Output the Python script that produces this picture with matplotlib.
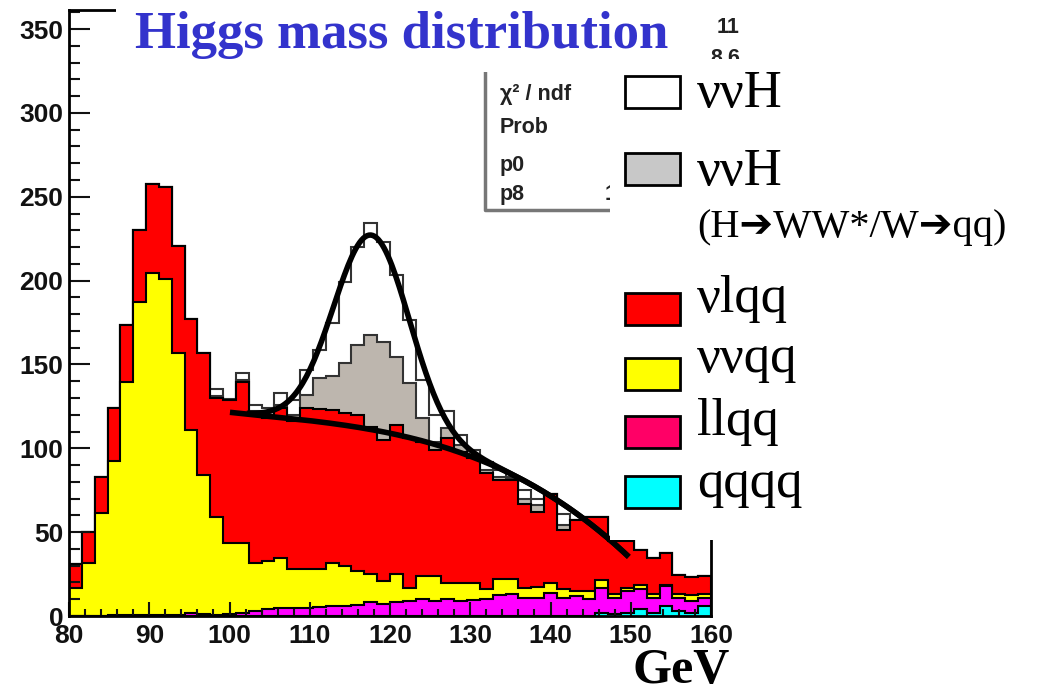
import numpy as np
import matplotlib
matplotlib.use("Agg")
import matplotlib.pyplot as plt
from matplotlib.patches import Rectangle
from matplotlib.lines import Line2D

# binning: 50 bins of 1.6 GeV
edges = np.linspace(80, 160, 51)

# per-process bin contents (stacked bottom -> top)
qqqq = [0]*41 + [2, 1, 2, 4, 2, 6, 3, 2, 6]
llqq = [0, 0, 0, 0.3, 0.3, 0.3, 0.3, 0.5, 0.5, 1.5,
        1, 0.5, 1, 2, 3, 4, 4.5, 5, 4.5, 5.5,
        6, 6, 6.5, 8.5, 7, 8.3, 8.9, 9.9, 8.9, 9.9,
        9, 9.5, 9.9, 12.3, 12.9, 10.9, 10.9, 13.9, 10.9, 11.9,
        9.9, 14.9, 9.9, 12.9, 11.9, 8.9, 11.9, 7.9, 6.9, 4.9]
vvqq = [16.5, 31.8, 61.2, 92.1, 139.5, 186.8, 204.5, 200.3, 156.5, 109.5,
        83.1, 58.7, 42.5, 41.5, 28.8, 28.8, 30.3, 22.8, 23.3, 22.3,
        25.8, 23.8, 20.3, 16.4, 13.9, 16.6, 7.6, 14.0, 15.0, 10.0,
        10.5, 10.0, 6.0, 10.0, 9.4, 5.6, 6.6, 6.0, 5.0, 3.0,
        5.0, 4.6, 2.0, 1.6, 2.4, 2.1, 0.6, 2.0, 3.4, 2.0]
vlqq = [14.3, 18.5, 21.5, 31.5, 33.8, 43.1, 52.9, 55.2, 63.7, 66.0,
        72.6, 71.0, 85.3, 96.3, 88.2, 85.2, 89.2, 88.2, 96.1, 95.5,
        91.1, 91.5, 93.1, 88.0, 84.1, 89.0, 89.5, 80.1, 75.1, 86.1,
        78.5, 74.5, 69.1, 58.7, 58.7, 50.5, 44.5, 53.1, 35.1, 42.1,
        44.1, 37.5, 32.1, 28.5, 21.1, 21.4, 18.9, 11.6, 11.2, 10.9]
vvh_ww = [0]*11 + [0.8, 0, 1.2, 2, 2, 2, 4, 8.1, 18.4,
                   20.4, 29.4, 41.7, 54.7, 58.6, 40.8, 32.8, 13.9, 5, 6,
                   4, 2, 2, 2, 1, 3, 4, 0, 3] + [0]*11
vvh = [0]*11 + [4.6, 0.7, 4.1, 4, 4, 7, 9, 14.7, 16.9,
                31.3, 48.7, 58.4, 66.6, 59.7, 48.7, 37.7, 22.9, 16, 10,
                6, 3, 5, 4, 1, 5, 4, 0, 7] + [0]*11

# fit: cubic background in (m-100) + gaussian signal
bg_par = [121.5, -0.503, 0.00642, -0.000626]
sig_par = [116, 117.7, 4.7]

legend_labels = ["ννH", "ννH", "νlqq", "ννqq", "llqq", "qqqq"]
legend_colors = ["white", "#c8c8c8", "#ff0000", "#ffff00", "#ff0066", "#00ffff"]

W, H = 1054, 695
def fx(x): return x / W
def fy(y): return 1 - y / H

fig = plt.figure(figsize=(W/100, H/100), dpi=100)
ax = fig.add_axes([fx(69), fy(616), 642/W, 606/H])

stack = np.cumsum([qqqq, llqq, vvqq, vlqq, vvh_ww, vvh], axis=0)
styles = [("#00ffff", "black"), ("#ff00ff", "black"), ("#ffff00", "black"),
          ("#ff0000", "black"), ("#bdb6ae", "#333333"), ("white", "#333333")]
for i in range(5, -1, -1):
    ax.stairs(stack[i], edges, fill=True, facecolor=styles[i][0],
              edgecolor=styles[i][1], lw=1.5)

def bg(m):
    t = m - 100
    return bg_par[0] + bg_par[1]*t + bg_par[2]*t**2 + bg_par[3]*t**3

m1 = np.linspace(100.4, 149.5, 200)
m2 = np.linspace(102.5, 149.5, 200)
ax.plot(m1, bg(m1), color="black", lw=4, zorder=5)
ax.plot(m2, bg(m2) + sig_par[0]*np.exp(-(m2 - sig_par[1])**2/(2*sig_par[2]**2)),
        color="black", lw=4, zorder=5)

ax.set_xlim(80, 160)
ax.set_ylim(0, 361.4)
ax.set_xticks(np.arange(80, 161, 10))
ax.set_yticks(np.arange(0, 351, 50))
ax.set_yticks(np.arange(0, 361, 10), minor=True)
ax.set_xticks(np.arange(80, 161, 2), minor=True)
ax.tick_params(which="both", direction="in", width=1.5, colors="#111111")
ax.tick_params(axis="y", which="major", length=15, pad=4)
ax.tick_params(axis="y", which="minor", length=8)
ax.tick_params(axis="x", which="major", length=10, pad=6)
ax.tick_params(axis="x", which="minor", length=5)
for lab in ax.get_xticklabels() + ax.get_yticklabels():
    lab.set_fontfamily("Liberation Sans")
    lab.set_fontweight("bold")
    lab.set_fontsize(19)
for s in ax.spines.values():
    s.set_linewidth(2)

# stats box (partly hidden): white face, grey left and bottom border
fig.patches.append(Rectangle((fx(485), fy(210)), (800-485)/W, 230/H,
                             transform=fig.transFigure, facecolor="white",
                             edgecolor="none", zorder=3))
fig.lines.append(Line2D([fx(485), fx(485), fx(800)], [fy(60), fy(210), fy(210)],
                        transform=fig.transFigure, color="#777777", lw=2.5, zorder=3.5))
sfont = dict(family="Liberation Sans", weight="bold", size=15.5, color="#222222",
             va="baseline", zorder=4)
fig.text(fx(500), fy(100), "χ² / ndf", **sfont)
fig.text(fx(500), fy(133), "Prob", **sfont)
fig.text(fx(500), fy(171), "p0", **sfont)
fig.text(fx(500), fy(200), "p8", **sfont)
fig.text(fx(605), fy(200), "1", **sfont)
fig.text(fx(740), fy(33), "11", ha="right", **sfont)
fig.text(fx(740), fy(64), "8.6", ha="right", **sfont)

# title band
fig.patches.append(Rectangle((fx(116), fy(72)), (705-116)/W, 80/H,
                             transform=fig.transFigure, facecolor="white",
                             edgecolor="none", zorder=6))
fig.text(fx(135), fy(48), "Higgs mass distribution", family="Liberation Serif",
         weight="bold", size=38, color="#3333cc", va="baseline", zorder=7)

# legend panel
fig.patches.append(Rectangle((fx(610), fy(540)), (W-610)/W, (540-59)/H,
                             transform=fig.transFigure, facecolor="white",
                             edgecolor="none", zorder=8))
box_tops = [76, 153, 293, 358, 416, 476]
baselines = [107, 185, 312, 372, 435, 497]
for lab, col, top, base in zip(legend_labels, legend_colors, box_tops, baselines):
    fig.patches.append(Rectangle((fx(625), fy(top+32)), 55/W, 32/H,
                                 transform=fig.transFigure, facecolor=col,
                                 edgecolor="black", lw=2, zorder=9))
    fig.text(fx(697), fy(base), lab, family="Liberation Serif", size=38,
             va="baseline", zorder=10)
fig.text(fx(697), fy(237), "(H➔WW*/W➔qq)", family=["Liberation Serif", "DejaVu Sans"],
         size=29, va="baseline", zorder=10)

fig.text(fx(681), fy(683), "GeV", family="Liberation Serif", weight="bold",
         size=36, ha="center", va="baseline", zorder=10)

fig.savefig("out.png", dpi=100)
